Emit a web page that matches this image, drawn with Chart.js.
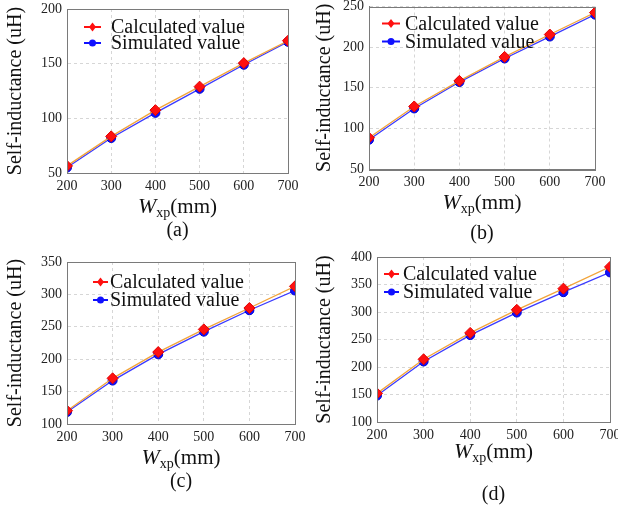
<!DOCTYPE html>
<html>
<head>
<meta charset="utf-8">
<script src="https://cdn.jsdelivr.net/npm/chart.js@4/dist/chart.umd.min.js"></script>
<style>
  html, body { margin: 0; padding: 0; background: #fff; overflow: hidden; }
  #wrap { position: relative; width: 618px; height: 505px; overflow: hidden; }
  canvas { position: absolute; }
</style>
</head>
<body>
<div id="wrap">
  <canvas id="chartA" style="left:0;top:0;width:309px;height:250px"></canvas>
  <canvas id="chartB" style="left:309px;top:0;width:309px;height:250px"></canvas>
  <canvas id="chartC" style="left:0;top:250px;width:309px;height:255px"></canvas>
  <canvas id="chartD" style="left:309px;top:250px;width:320px;height:255px"></canvas>
</div>
<script>
// x positions (Wxp, mm)
const widths = [200, 300, 400, 500, 600, 700];
const seriesNames = ['Calculated value', 'Simulated value'];

// panel (a)
const calcA = [56.5, 83.5, 107.5, 129, 150.5, 171];
const simA = [55, 82, 105, 127, 149, 170];
// panel (b)
const calcB = [88.5, 127, 158.5, 188, 215.5, 242.5];
const simB = [86, 124.5, 157, 186, 213, 240];
// panel (c)
const calcC = [120.5, 170.5, 211, 246, 279, 312.5];
const simC = [118.5, 167, 207.5, 242.5, 275.5, 306];
// panel (d)
const calcD = [152, 214, 262, 304, 342.5, 382];
const simD = [148, 210, 258, 299, 336, 372];

const yRangeA = [50, 200], yRangeB = [50, 250], yRangeC = [100, 350], yRangeD = [100, 400];
const yStepA = 50, yStepB = 50, yStepC = 50, yStepD = 50;
const captions = ['(a)', '(b)', '(c)', '(d)'];

const serif = '"Liberation Serif", "Times New Roman", serif';

// box around plot area, MATLAB style
const boxPlugin = {
  id: 'box',
  afterDraw(chart) {
    const a = chart.chartArea, ctx = chart.ctx;
    ctx.save();
    ctx.strokeStyle = '#7a7a7a';
    ctx.lineWidth = 1;
    ctx.strokeRect(Math.round(a.left) + 0.5, Math.round(a.top) + 0.5,
      Math.round(a.right - a.left), Math.round(a.bottom - a.top));
    ctx.restore();
  }
};

// legend with line + marker samples inside the axes
const lineLegend = {
  id: 'lineLegend',
  afterDraw(chart, args, opts) {
    const ctx = chart.ctx, a = chart.chartArea;
    ctx.save();
    chart.data.datasets.forEach((ds, i) => {
      const y = a.top + opts.y + i * opts.gap;
      const x0 = a.left + opts.x;
      const cx = x0 + opts.len / 2;
      ctx.strokeStyle = ds.pointBackgroundColor;
      ctx.lineWidth = 2;
      ctx.beginPath();
      ctx.moveTo(x0, y);
      ctx.lineTo(x0 + opts.len, y);
      ctx.stroke();
      ctx.fillStyle = ds.pointBackgroundColor;
      ctx.beginPath();
      if (ds.pointStyle === 'circle') {
        ctx.arc(cx, y, 3.5, 0, Math.PI * 2);
      } else {
        ctx.moveTo(cx, y - 4.5);
        ctx.lineTo(cx + 3.5, y);
        ctx.lineTo(cx, y + 4.5);
        ctx.lineTo(cx - 3.5, y);
        ctx.closePath();
      }
      ctx.fill();
      ctx.fillStyle = '#111';
      ctx.font = '20px ' + serif;
      ctx.textBaseline = 'middle';
      ctx.textAlign = 'left';
      ctx.fillText(ds.label, x0 + opts.len + opts.textGap, y + 1);
    });
    ctx.restore();
  }
};

// x-axis title "Wxp(mm)" with italic W and subscript, plus panel caption
const xTitle = {
  id: 'xTitle',
  afterDraw(chart, args, opts) {
    const ctx = chart.ctx, a = chart.chartArea;
    const cx = (a.left + a.right) / 2;
    const base = a.bottom + opts.titleOffset;
    ctx.save();
    ctx.fillStyle = '#111';
    ctx.textBaseline = 'alphabetic';
    ctx.textAlign = 'left';
    const fW = 'italic 22px ' + serif, fSub = '14px ' + serif, fMain = '21px ' + serif;
    ctx.font = fW; const wW = ctx.measureText('W').width;
    ctx.font = fSub; const wS = ctx.measureText('xp').width;
    ctx.font = fMain; const wM = ctx.measureText('(mm)').width;
    let x = cx - (wW + wS + wM) / 2;
    ctx.font = fW; ctx.fillText('W', x, base); x += wW;
    ctx.font = fSub; ctx.fillText('xp', x, base + 4); x += wS;
    ctx.font = fMain; ctx.fillText('(mm)', x, base);
    ctx.font = '20px ' + serif;
    ctx.textAlign = 'center';
    ctx.textBaseline = 'middle';
    ctx.fillText(opts.caption, cx, a.bottom + opts.captionOffset);
    ctx.restore();
  }
};

function makePanel(id, calc, sim, yRange, yStep, caption, lay) {
  return new Chart(document.getElementById(id), {
    type: 'line',
    data: {
      datasets: [
        {
          label: seriesNames[0],
          data: widths.map((w, i) => ({ x: w, y: calc[i] })),
          borderColor: '#f2a43a',
          borderWidth: 1.3,
          pointStyle: 'rectRot',
          pointRadius: 5.5,
          pointBackgroundColor: '#ff1010',
          pointBorderColor: '#e00000',
          pointBorderWidth: 1,
          tension: 0
        },
        {
          label: seriesNames[1],
          data: widths.map((w, i) => ({ x: w, y: sim[i] })),
          borderColor: '#3a3aff',
          borderWidth: 1.3,
          pointStyle: 'circle',
          pointRadius: 4.5,
          pointBackgroundColor: '#1010ff',
          pointBorderColor: '#0000d0',
          pointBorderWidth: 1,
          tension: 0
        }
      ]
    },
    options: {
      responsive: false,
      maintainAspectRatio: false,
      animation: false,
      events: [],
      layout: { padding: { left: lay.left, top: lay.top, right: lay.right, bottom: 0 } },
      plugins: {
        legend: { display: false },
        tooltip: { enabled: false },
        lineLegend: lay.legend,
        xTitle: { caption: caption, titleOffset: lay.titleOffset, captionOffset: lay.captionOffset }
      },
      scales: {
        x: {
          type: 'linear',
          min: widths[0],
          max: widths[widths.length - 1],
          ticks: { stepSize: 100, color: '#222', font: { family: serif, size: 14 }, padding: 5, maxRotation: 0 },
          grid: { color: '#d6d6d6', drawTicks: false },
          border: { display: true, color: '#7a7a7a', dash: [3, 3] },
          afterFit(scale) {
            scale.height = lay.xHeight;
            scale.paddingLeft = 0; scale.paddingRight = 0;
          }
        },
        y: {
          min: yRange[0],
          max: yRange[1],
          ticks: { stepSize: yStep, color: '#222', font: { family: serif, size: 14 }, padding: 5 },
          grid: { color: '#d6d6d6', drawTicks: false },
          border: { display: true, color: '#7a7a7a', dash: [3, 3] },
          title: {
            display: true,
            text: 'Self-inductance (uH)',
            color: '#111',
            font: { family: serif, size: 20 },
            padding: { top: 0, bottom: 0 }
          },
          afterFit(scale) {
            scale.width = lay.yWidth - lay.left;
            scale.paddingTop = 0; scale.paddingBottom = 0;
          }
        }
      }
    },
    plugins: [boxPlugin, lineLegend, xTitle]
  });
}

function sizeCanvas(id, w, h) {
  const c = document.getElementById(id);
  c.width = w; c.height = h;
}
sizeCanvas('chartA', 309, 250);
sizeCanvas('chartB', 309, 250);
sizeCanvas('chartC', 309, 255);
sizeCanvas('chartD', 320, 255);

makePanel('chartA', calcA, simA, yRangeA, yStepA, captions[0], {
  left: 4, top: 9, right: 21, xHeight: 77, yWidth: 67, titleOffset: 40, captionOffset: 58,
  legend: { x: 17, y: 18, gap: 16, len: 17, textGap: 10 }
});
makePanel('chartB', calcB, simB, yRangeB, yStepB, captions[1], {
  left: 4, top: 5, right: 23, xHeight: 81, yWidth: 60, titleOffset: 40, captionOffset: 65,
  legend: { x: 13, y: 17, gap: 18, len: 18, textGap: 5 }
});
makePanel('chartC', calcC, simC, yRangeC, yStepC, captions[2], {
  left: 4, top: 12, right: 14, xHeight: 81, yWidth: 67, titleOffset: 40, captionOffset: 58,
  legend: { x: 26, y: 20, gap: 18, len: 15, textGap: 2 }
});
makePanel('chartD', calcD, simD, yRangeD, yStepD, captions[3], {
  left: 4, top: 7, right: 19, xHeight: 83, yWidth: 68, titleOffset: 36, captionOffset: 73,
  legend: { x: 7, y: 17, gap: 18, len: 15, textGap: 4 }
});
</script>
</body>
</html>
